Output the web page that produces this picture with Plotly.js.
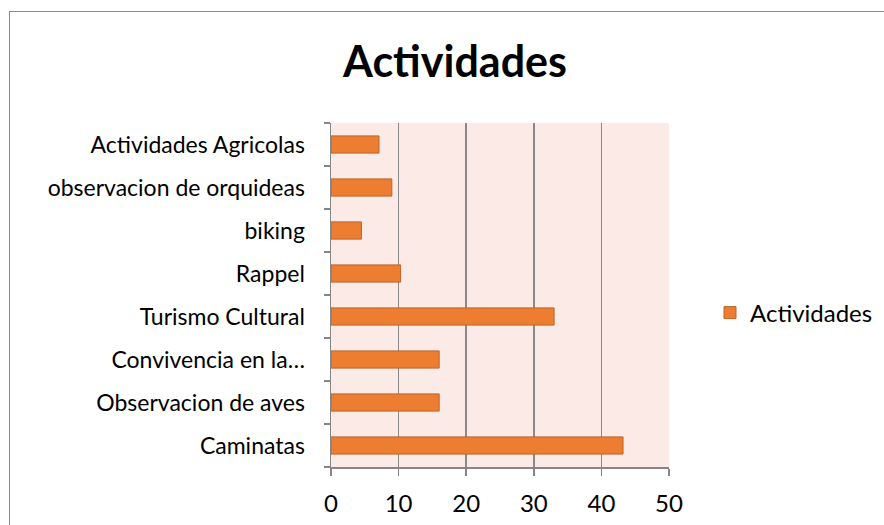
<!DOCTYPE html>
<html>
<head>
<meta charset="utf-8">
<script src="https://cdn.plot.ly/plotly-3.0.1.min.js"></script>
<style>
  html, body { margin: 0; padding: 0; background: #ffffff; overflow: hidden; }
  #frame { position: absolute; left: 9px; top: 11px; width: 900px; height: 540px;
           border: 1px solid #8c8c8c; box-sizing: border-box; }
  #graph1 { position: absolute; left: 0; top: 0; width: 884px; height: 525px; }
</style>
</head>
<body>
<div id="frame"></div>
<div id="graph1"></div>
<script>
// categories, bottom to top as they show in the chart
var actividades = ['Caminatas', 'Observacion de aves', 'Convivencia en la\u2026',
    'Turismo Cultural', 'Rappel', 'biking', 'observacion de orquideas', 'Actividades Agricolas'];
var valores = [43.2, 16, 16, 33, 10.3, 4.5, 9, 7.1];
var xTicks = [0, 10, 20, 30, 40, 50];

var fuente = 'Lato, "Open Sans", sans-serif';

var trace = {
    type: 'bar',
    orientation: 'h',
    name: 'Actividades',
    y: actividades,
    x: valores,
    marker: { color: '#ED7D31', line: { color: '#B9652C', width: 1 } },
    showlegend: true
};

Plotly.newPlot('graph1', [trace], {
    width: 884,
    height: 525,
    autosize: false,
    paper_bgcolor: 'rgba(0,0,0,0)',
    plot_bgcolor: '#FBEAE6',
    margin: { l: 331, r: 215, t: 123, b: 58, pad: 0 },
    bargap: 0.6,
    font: { family: fuente, color: '#000000', size: 23 },
    title: {
        text: '<b>Actividades</b>',
        font: { family: fuente, size: 43, color: '#000000' },
        xref: 'container', x: 455 / 884, xanchor: 'center',
        yref: 'container', y: 1 - 62 / 525, yanchor: 'middle'
    },
    xaxis: {
        range: [0, 50],
        tickvals: xTicks,
        ticks: 'outside', ticklen: 7, tickcolor: '#868686', tickwidth: 1.5,
        showgrid: true, gridcolor: '#8a8a8a', gridwidth: 1.5,
        showline: true, linecolor: '#868686', linewidth: 1.5,
        zeroline: false,
        tickfont: { size: 24 },
        ticklabelstandoff: 8,
        fixedrange: true
    },
    yaxis: {
        type: 'category',
        categoryorder: 'array',
        categoryarray: actividades,
        tickson: 'boundaries',
        ticks: 'outside', ticklen: 6, tickcolor: '#868686', tickwidth: 1.5,
        showline: true, linecolor: '#868686', linewidth: 1.5,
        showgrid: false,
        tickfont: { size: 23 },
        ticklabelstandoff: 20,
        fixedrange: true
    },
    legend: {
        xref: 'container', x: 710 / 884, xanchor: 'left',
        yref: 'container', y: 1 - 313 / 525, yanchor: 'middle',
        font: { size: 24 },
        bgcolor: 'rgba(0,0,0,0)',
        itemwidth: 30
    }
}, { displayModeBar: false, staticPlot: true });
</script>
</body>
</html>
